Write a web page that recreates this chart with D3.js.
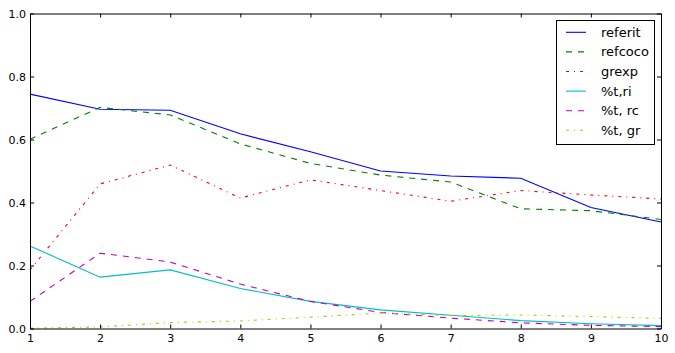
<!DOCTYPE html>
<html>
<head>
<meta charset="utf-8">
<script src="https://cdn.jsdelivr.net/npm/d3@7"></script>
<style>
  html, body { margin: 0; padding: 0; background: #fff; }
  svg { display: block; }
</style>
</head>
<body>
<svg id="chart" width="675" height="353"></svg>
<script>
// data
const steps = [1, 2, 3, 4, 5, 6, 7, 8, 9, 10];
const seriesNames = ["referit", "refcoco", "grexp", "%t,ri", "%t, rc", "%t, gr"];
const referit = [0.744, 0.696, 0.693, 0.618, 0.561, 0.500, 0.484, 0.477, 0.384, 0.338];
const refcoco = [0.601, 0.702, 0.678, 0.586, 0.524, 0.487, 0.465, 0.380, 0.374, 0.346];
const grexp   = [0.186, 0.459, 0.519, 0.414, 0.472, 0.438, 0.404, 0.438, 0.424, 0.411];
const tRi     = [0.262, 0.163, 0.186, 0.127, 0.086, 0.059, 0.042, 0.025, 0.015, 0.009];
const tRc     = [0.086, 0.239, 0.211, 0.141, 0.086, 0.051, 0.033, 0.018, 0.010, 0.006];
const tGr     = [0.001, 0.005, 0.019, 0.024, 0.036, 0.049, 0.041, 0.043, 0.038, 0.032];
const xTicks = [1, 2, 3, 4, 5, 6, 7, 8, 9, 10];
const yTicks = [0.0, 0.2, 0.4, 0.6, 0.8, 1.0];

const colors = ["#0000ff", "#008000", "#ff0000", "#00bfbf", "#bf00bf", "#bfbf00"];
const dashes = [null, "6,6", "3,5,1,5", null, "6,6", "3,5,1,5"];
const allSeries = [referit, refcoco, grexp, tRi, tRc, tGr];

const margin = { top: 13.5, right: 14, bottom: 24.5, left: 30 };
const width = 675, height = 353;
const font = "'DejaVu Sans', sans-serif";

const svg = d3.select("#chart");

const x = d3.scaleLinear()
    .domain([1, 10])
    .range([margin.left, width - margin.right]);
const y = d3.scaleLinear()
    .domain([0, 1])
    .range([height - margin.bottom, margin.top]);

// lines
const line = d3.line()
    .x((d, i) => x(steps[i]))
    .y(d => y(d));

svg.append("g")
    .attr("fill", "none")
    .attr("stroke-width", 1.1)
    .selectAll("path")
    .data(allSeries)
    .join("path")
    .attr("stroke", (d, i) => colors[i])
    .attr("stroke-dasharray", (d, i) => dashes[i])
    .attr("d", d => line(d));

// axes, ticks pointing inward on all four sides
function styleAxis(g) {
    g.attr("font-family", font).attr("font-size", 11);
    g.select(".domain").attr("stroke", "#000").attr("stroke-width", 1);
    g.selectAll(".tick line").attr("stroke", "#000");
    g.selectAll(".tick text").attr("fill", "#000");
}

svg.append("g")
    .attr("transform", `translate(0,${y(0)})`)
    .call(d3.axisBottom(x).tickValues(xTicks).tickFormat(d3.format("d"))
        .tickSizeInner(-4).tickSizeOuter(0).tickPadding(5.5))
    .call(styleAxis);

svg.append("g")
    .attr("transform", `translate(0,${y(1)})`)
    .call(d3.axisTop(x).tickValues(xTicks).tickFormat("")
        .tickSizeInner(-4).tickSizeOuter(0))
    .call(styleAxis);

svg.append("g")
    .attr("transform", `translate(${x(1)},0)`)
    .call(d3.axisLeft(y).tickValues(yTicks).tickFormat(d3.format(".1f"))
        .tickSizeInner(-4).tickSizeOuter(0).tickPadding(4))
    .call(styleAxis);

svg.append("g")
    .attr("transform", `translate(${x(10)},0)`)
    .call(d3.axisRight(y).tickValues(yTicks).tickFormat("")
        .tickSizeInner(-4).tickSizeOuter(0))
    .call(styleAxis);

// legend
const legend = svg.append("g")
    .attr("transform", "translate(556,20)");

legend.append("rect")
    .attr("x", 0.5)
    .attr("y", 0.5)
    .attr("width", 98)
    .attr("height", 124)
    .attr("fill", "#fff")
    .attr("stroke", "#000")
    .attr("stroke-width", 1);

const rows = legend.selectAll("g.row")
    .data(seriesNames)
    .join("g")
    .attr("class", "row")
    .attr("transform", (d, i) => `translate(0,${12.3 + i * 19.6})`);

rows.append("line")
    .attr("x1", 10)
    .attr("x2", 30)
    .attr("stroke", (d, i) => colors[i])
    .attr("stroke-width", 1.1)
    .attr("stroke-dasharray", (d, i) => dashes[i]);

rows.append("text")
    .attr("x", 45)
    .attr("dy", "0.35em")
    .attr("font-family", font)
    .attr("font-size", 13)
    .attr("fill", "#000")
    .text(d => d);
</script>
</body>
</html>
